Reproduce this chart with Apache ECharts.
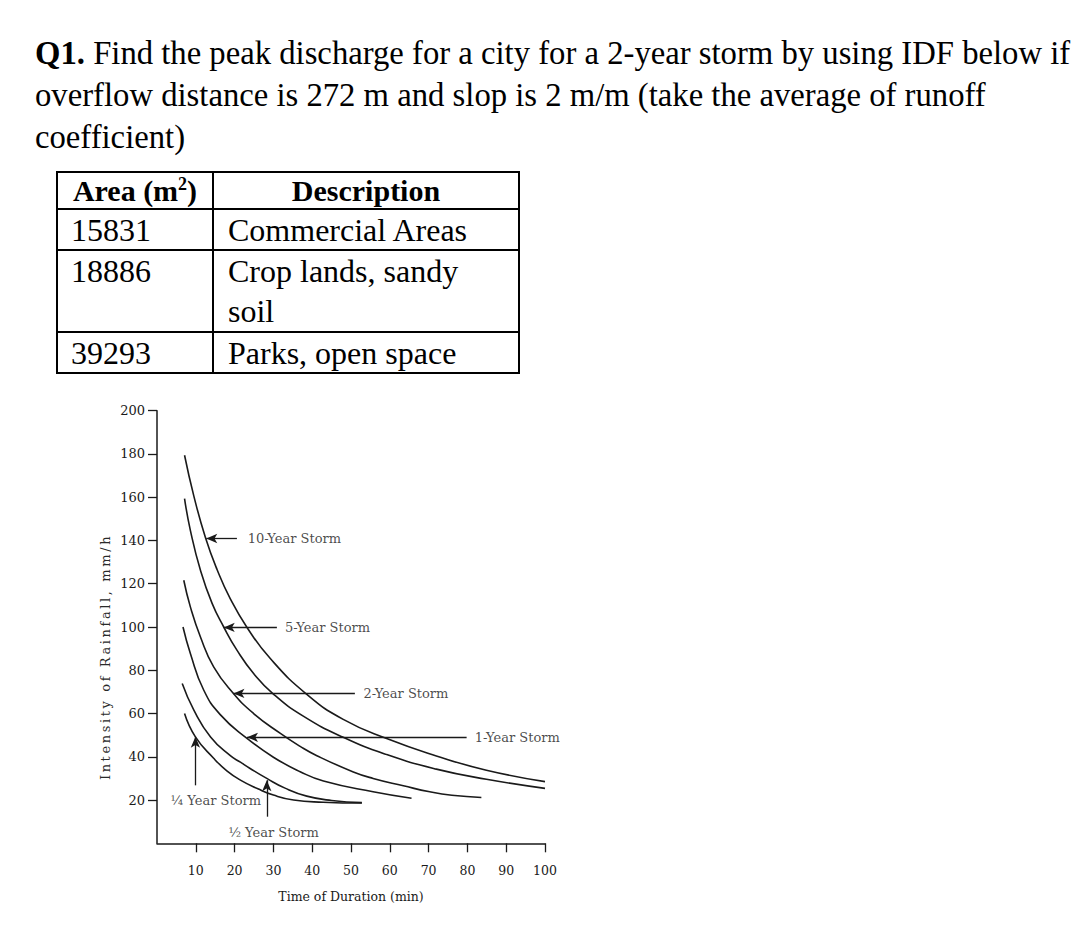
<!DOCTYPE html>
<html>
<head>
<meta charset="utf-8">
<script src="https://cdn.jsdelivr.net/npm/echarts@6/dist/echarts.min.js"></script>
<style>
html,body{margin:0;padding:0;background:#fff;}
#wrap{position:relative;width:1080px;height:936px;overflow:hidden;background:#fff;}
#chart{position:absolute;left:0;top:0;width:1080px;height:936px;}
#q{position:absolute;left:35px;top:32px;white-space:nowrap;font-family:"Liberation Serif","Times New Roman",serif;font-size:32.7px;line-height:42px;color:#000;}
.tl{position:absolute;background:#000;}
.tt{position:absolute;white-space:nowrap;font-family:"Liberation Serif","Times New Roman",serif;font-size:32px;line-height:40px;color:#000;}
.tt sup{font-size:60%;line-height:0;}
#yname{position:absolute;left:105px;top:657px;transform:translate(-50%,-50%) rotate(-90deg);white-space:nowrap;font-family:"DejaVu Serif",serif;font-size:13px;letter-spacing:2.6px;color:#2a2a2a;}
</style>
</head>
<body>
<div id="wrap">
  <div id="chart"></div>
  <div id="q"></div>
  <div id="tbl"></div>
  <div id="yname">Intensity of Rainfall, mm/h</div>
</div>
<script>
// ---------- question text & table ----------
const questionLines = [
  "<b>Q1.</b> Find the peak discharge for a city for a 2-year storm by using IDF below if",
  "overflow distance is 272 m and slop is 2 m/m (take the average of runoff",
  "coefficient)"
];
const tableHeaders = ["Area (m<sup>2</sup>)", "Description"];
const areas = [15831, 18886, 39293];
const descriptions = [["Commercial Areas"], ["Crop lands, sandy", "soil"], ["Parks, open space"]];

document.getElementById('q').innerHTML = questionLines.join('<br>');

// table layout (pixels)
const T = {left: 57, mid: 213, right: 519, rows: [172, 209, 250, 332, 373]};
let h = '';
T.rows.forEach(y => { h += '<div class="tl" style="left:'+(T.left-1)+'px;top:'+(y-1)+'px;width:'+(T.right-T.left+2)+'px;height:2px"></div>'; });
[T.left, T.mid, T.right].forEach(x => { h += '<div class="tl" style="left:'+(x-1)+'px;top:'+(T.rows[0]-1)+'px;width:2px;height:'+(T.rows[4]-T.rows[0]+2)+'px"></div>'; });
h += '<div class="tt" style="left:'+T.left+'px;width:'+(T.mid-T.left)+'px;top:'+(T.rows[0]-1)+'px;text-align:center;font-weight:bold;font-size:30px">'+tableHeaders[0]+'</div>';
h += '<div class="tt" style="left:'+T.mid+'px;width:'+(T.right-T.mid)+'px;top:'+(T.rows[0]-1)+'px;text-align:center;font-weight:bold;font-size:30px">'+tableHeaders[1]+'</div>';
areas.forEach((a, i) => {
  const top = T.rows[i+1] + 1;
  h += '<div class="tt" style="left:'+(T.left+14)+'px;top:'+top+'px">'+a+'</div>';
  h += '<div class="tt" style="left:'+(T.mid+15)+'px;top:'+top+'px">'+descriptions[i].join('<br>')+'</div>';
});
document.getElementById('tbl').innerHTML = h;

// ---------- IDF chart data: [duration (min), intensity (mm/h)] ----------
const storm10 = [[7.1,179.4],[9.5,160.5],[12.5,141.3],[15.5,126.5],[18.9,113.0],[23.2,99.8],[29.2,85.4],[38.6,68.9],[48.0,57.3],[59.2,48.4],[72.0,40.4],[84.9,33.8],[100,28.5]];
const storm5 = [[7.1,159.4],[8.6,144.7],[11.2,126.2],[14.2,110.9],[17.2,100.0],[20.6,89.3],[24.9,78.5],[30.0,69.0],[37.7,58.8],[48.0,49.0],[59.2,41.0],[72.0,34.3],[84.9,29.6],[100,25.4]];
const storm2 = [[6.9,121.6],[8.6,109.3],[11.2,95.4],[14.6,81.6],[19.7,69.3],[24.9,60.0],[31.8,50.8],[36.9,44.8],[41.2,40.5],[50.6,33.0],[55.7,30.0],[63.5,26.6],[70.3,23.8],[76.0,22.2],[83.6,21.2]];
const storm1 = [[6.7,100.0],[8.6,87.8],[12.0,71.0],[16.3,59.5],[23.2,48.5],[30.0,39.8],[36.9,33.1],[42.9,28.8],[55.7,23.8],[65.6,20.8]];
const stormHalf = [[6.5,73.9],[9.5,61.6],[13.8,49.2],[18.9,40.5],[21.5,37.5],[24.0,34.6],[28.3,30.0],[33.0,25.5],[38.6,21.8],[45.0,19.8],[52.8,18.8]];
const stormQuarter = [[7.1,60.0],[9.9,49.2],[14.6,39.3],[18.0,33.5],[21.5,29.2],[26.0,25.2],[30.0,22.3],[35.2,20.0],[42.8,19.0],[52.8,18.6]];

const seriesNames = ["10-Year Storm","5-Year Storm","2-Year Storm","1-Year Storm","½ Year Storm","¼ Year Storm"];
const seriesData = [storm10, storm5, storm2, storm1, stormHalf, stormQuarter];

const xTicks = [10,20,30,40,50,60,70,80,90,100];
const yTicks = [20,40,60,80,100,120,140,160,180,200];

// annotation arrows: [tail x, tail y, tip x, tip y] in data units
const arrows = [
  [20.6,140.9, 12.7,140.9],
  [30.9,99.8, 17.2,99.8],
  [51.0,69.3, 19.7,69.3],
  [79.8,49.0, 23.2,49.0],
  [9.9,26.8, 9.9,49.3],
  [28.3,12.3, 28.3,29.2]
];
// annotation labels: [x, y, text]
const labels = [
  [23.4,141.1,"10-Year Storm"],
  [33.0,99.9,"5-Year Storm"],
  [53.2,69.4,"2-Year Storm"],
  [81.9,49.1,"1-Year Storm"],
  [3.5,20.0,"¼ Year Storm"],
  [18.4,5.2,"½ Year Storm"]
];

const FONT = '"DejaVu Serif", serif';
const INK = '#1a1a1a';

const chart = echarts.init(document.getElementById('chart'), null, {renderer:'svg'});
const series = seriesData.map((d, i) => ({
  name: seriesNames[i],
  type: 'line',
  data: d,
  smooth: 0.5,
  showSymbol: false,
  symbol: 'none',
  clip: false,
  lineStyle: {color: INK, width: 1.6},
  silent: true
}));
series[0].markLine = {
  silent: true,
  symbol: ['none','arrow'],
  symbolSize: [7, 11],
  label: {show: false},
  lineStyle: {color: INK, width: 1.3, type: 'solid'},
  data: arrows.map(a => [{coord:[a[0],a[1]]},{coord:[a[2],a[3]]}])
};
series.push({
  type: 'scatter',
  data: labels,
  symbolSize: 0,
  silent: true,
  clip: false,
  label: {
    show: true, position: 'right', distance: 0,
    formatter: p => p.data[2],
    fontFamily: FONT, fontSize: 13, color: INK
  }
});

chart.setOption({
  animation: false,
  backgroundColor: 'transparent',
  grid: {left: 157, right: 535, top: 410.7, bottom: 92.7},
  xAxis: {
    type: 'value', min: 0, max: 100, interval: 10,
    name: 'Time of Duration (min)', nameLocation: 'middle', nameGap: 47,
    nameTextStyle: {fontFamily: FONT, fontSize: 12.5, color: INK},
    axisLine: {show: true, lineStyle: {color: INK, width: 1.5}},
    axisTick: {show: true, length: 9, customValues: xTicks, lineStyle: {color: INK, width: 1.3}},
    axisLabel: {customValues: xTicks, margin: 21, fontFamily: FONT, fontSize: 12.5, color: INK},
    splitLine: {show: false}
  },
  yAxis: {
    type: 'value', min: 0, max: 200, interval: 20,
    axisLine: {show: true, lineStyle: {color: INK, width: 1.5}},
    axisTick: {show: true, length: 9, customValues: yTicks, lineStyle: {color: INK, width: 1.3}},
    axisLabel: {customValues: yTicks, margin: 12, fontFamily: FONT, fontSize: 13, color: INK},
    splitLine: {show: false}
  },
  series: series
});
</script>
</body>
</html>
